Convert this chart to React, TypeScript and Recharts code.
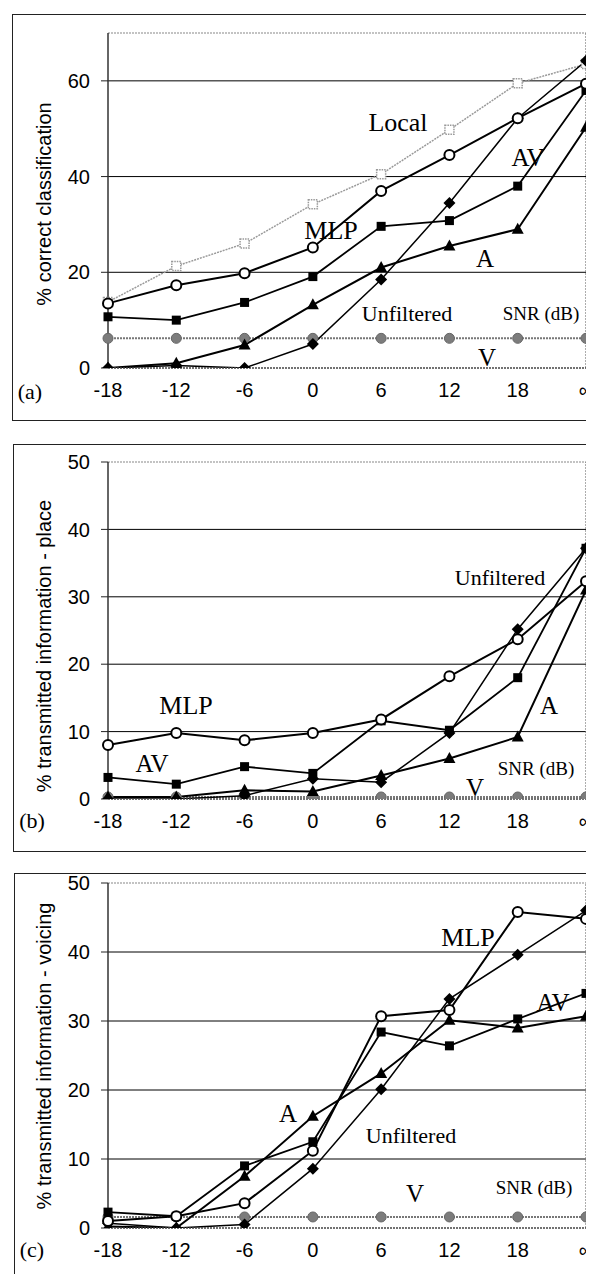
import React from 'react';
import { LineChart, Line, XAxis, YAxis, ReferenceLine } from 'recharts';

// Categories (SNR in dB)
const snrLabels = ['-18', '-12', '-6', '0', '6', '12', '18', '∞'];

// Panel (a): % correct classification
const aLocal = [13.8, 21.3, 26.0, 34.2, 40.5, 49.8, 59.5, 63.5];
const aMLP = [13.5, 17.3, 19.8, 25.2, 37.0, 44.5, 52.2, 59.4];
const aAV = [10.7, 10.0, 13.7, 19.1, 29.6, 30.8, 38.0, 58.0];
const aA = [0.0, 1.0, 4.8, 13.2, 21.0, 25.5, 29.0, 50.3];
const aUnf = [0.0, 0.5, 0.0, 5.0, 18.5, 34.5, 52.2, 64.2];
const aV = [6.2, 6.2, 6.2, 6.2, 6.2, 6.2, 6.2, 6.2];

// Panel (b): % transmitted information - place
const bMLP = [8.0, 9.8, 8.7, 9.8, 11.8, 18.2, 23.7, 32.3];
const bAV = [3.2, 2.2, 4.8, 3.8, 11.6, 10.2, 18.0, 37.2];
const bA = [0.3, 0.3, 1.3, 1.1, 3.5, 6.0, 9.2, 31.0];
const bUnf = [0.0, 0.0, 0.5, 3.0, 2.5, 9.8, 25.2, 37.2];
const bV = [0.3, 0.3, 0.3, 0.3, 0.3, 0.3, 0.3, 0.3];

// Panel (c): % transmitted information - voicing
const cMLP = [1.0, 1.7, 3.6, 11.2, 30.7, 31.6, 45.8, 44.8];
const cAV = [2.3, 1.7, 9.0, 12.5, 28.4, 26.4, 30.3, 34.0];
const cA = [0.2, 0.0, 7.5, 16.2, 22.4, 30.1, 29.0, 30.7];
const cUnf = [0.7, 0.0, 0.5, 8.6, 20.1, 33.2, 39.6, 46.0];
const cV = [1.6, 1.6, 1.6, 1.6, 1.6, 1.6, 1.6, 1.6];

const aTicks = [0, 20, 40, 60];
const aGrid = [20, 40, 60];
const bTicks = [0, 10, 20, 30, 40, 50];
const bGrid = [10, 20, 30, 40];

type Row = { snr: string; [k: string]: number | string };

function buildRows(series: Record<string, number[]>): Row[] {
  return snrLabels.map((snr, i) => {
    const r: Row = { snr };
    Object.keys(series).forEach((k) => {
      r[k] = series[k][i];
    });
    return r;
  });
}

const dataA = buildRows({ Local: aLocal, MLP: aMLP, AV: aAV, A: aA, Unfiltered: aUnf, V: aV });
const dataB = buildRows({ MLP: bMLP, AV: bAV, A: bA, Unfiltered: bUnf, V: bV });
const dataC = buildRows({ MLP: cMLP, AV: cAV, A: cA, Unfiltered: cUnf, V: cV });

const SANS = "'Liberation Sans', Arial, Helvetica, sans-serif";
const SERIF = "'Liberation Serif', 'Times New Roman', Times, serif";

const ok = (p: any) => p && typeof p.cx === 'number' && typeof p.cy === 'number' && !isNaN(p.cy);

const OpenCircle = (p: any) =>
  ok(p) ? <circle key={`oc-${p.index}`} cx={p.cx} cy={p.cy} r={5} fill="#fff" stroke="#000" strokeWidth={2} /> : <g key={`oc-${p.index}`} />;
const FilledSquare = (p: any) =>
  ok(p) ? <rect key={`fs-${p.index}`} x={p.cx - 4.5} y={p.cy - 4.5} width={9} height={9} fill="#000" /> : <g key={`fs-${p.index}`} />;
const Triangle = (p: any) =>
  ok(p) ? (
    <polygon key={`tr-${p.index}`} points={`${p.cx},${p.cy - 6.5} ${p.cx + 6},${p.cy + 4.5} ${p.cx - 6},${p.cy + 4.5}`} fill="#000" />
  ) : (
    <g key={`tr-${p.index}`} />
  );
const Diamond = (p: any) =>
  ok(p) ? (
    <polygon key={`di-${p.index}`} points={`${p.cx},${p.cy - 6} ${p.cx + 6},${p.cy} ${p.cx},${p.cy + 6} ${p.cx - 6},${p.cy}`} fill="#000" />
  ) : (
    <g key={`di-${p.index}`} />
  );
const GrayDot = (p: any) =>
  ok(p) ? <circle key={`gd-${p.index}`} cx={p.cx} cy={p.cy} r={5} fill="#7c7c7c" stroke="#666" strokeWidth={1} /> : <g key={`gd-${p.index}`} />;
const LocalSquare = (p: any) =>
  ok(p) ? (
    <rect key={`ls-${p.index}`} x={p.cx - 4.5} y={p.cy - 4.5} width={9} height={9} fill="#fff" stroke="#999" strokeWidth={1.5} strokeDasharray="1.5 1" />
  ) : (
    <g key={`ls-${p.index}`} />
  );

const tickStyle = { fontFamily: SANS, fontSize: 20, fill: '#000' };

type PanelProps = {
  data: Row[];
  top: number;
  height: number;
  marginTop: number;
  marginBottom: number;
  yMax: number;
  ticks: number[];
  grid: number[];
  withLocal?: boolean;
};

function Panel({ data, top, height, marginTop, marginBottom, yMax, ticks, grid, withLocal }: PanelProps) {
  return (
    <div style={{ position: 'absolute', left: 0, top, width: 620, height }}>
      <LineChart
        width={620}
        height={height}
        data={data}
        margin={{ top: marginTop, right: 34, bottom: marginBottom, left: 68 }}
      >
        <XAxis
          dataKey="snr"
          type="category"
          height={30}
          tick={tickStyle}
          tickLine={false}
          tickSize={6}
          tickMargin={9}
          interval={0}
          axisLine={{ stroke: '#444', strokeDasharray: '2 1', strokeWidth: 1.5 }}
        />
        <YAxis
          width={40}
          domain={[0, yMax]}
          ticks={ticks}
          allowDataOverflow
          tick={tickStyle}
          tickSize={7}
          tickMargin={11}
          tickLine={{ stroke: '#222' }}
          axisLine={{ stroke: '#333', strokeWidth: 1.5 }}
          interval={0}
        />
        {grid.map((g) => (
          <ReferenceLine key={`g${g}`} y={g} stroke="#000" strokeWidth={1} />
        ))}
        <ReferenceLine y={yMax} stroke="#888" strokeDasharray="2 1" strokeWidth={1.2} />
        <ReferenceLine x="∞" stroke="#777" strokeDasharray="2 1" strokeWidth={1.2} />
        {withLocal && (
          <Line
            dataKey="Local"
            stroke="#9a9a9a"
            strokeWidth={1.5}
            strokeDasharray="2 1"
            dot={LocalSquare}
            isAnimationActive={false}
          />
        )}
        <Line dataKey="V" stroke="#777" strokeWidth={2} strokeDasharray="2 1" dot={GrayDot} isAnimationActive={false} />
        <Line dataKey="Unfiltered" stroke="#000" strokeWidth={1.5} dot={Diamond} isAnimationActive={false} />
        <Line dataKey="A" stroke="#000" strokeWidth={2} dot={Triangle} isAnimationActive={false} />
        <Line dataKey="AV" stroke="#000" strokeWidth={1.8} dot={FilledSquare} isAnimationActive={false} />
        <Line dataKey="MLP" stroke="#000" strokeWidth={2} dot={OpenCircle} isAnimationActive={false} />
      </LineChart>
    </div>
  );
}

type Ann = { t: string; x: number; y: number; s: number; f?: string };

const annotations: Ann[] = [
  // panel a
  { t: 'Local', x: 398, y: 122, s: 26 },
  { t: 'MLP', x: 331, y: 230, s: 26 },
  { t: 'AV', x: 528, y: 157, s: 25 },
  { t: 'A', x: 485, y: 258, s: 25 },
  { t: 'Unfiltered', x: 407, y: 313, s: 22 },
  { t: 'SNR (dB)', x: 541, y: 313, s: 19 },
  { t: 'V', x: 487, y: 357, s: 25 },
  { t: '(a)', x: 30, y: 391, s: 22 },
  // panel b
  { t: 'MLP', x: 186, y: 705, s: 26 },
  { t: 'AV', x: 152, y: 763, s: 25 },
  { t: 'Unfiltered', x: 500, y: 577, s: 22 },
  { t: 'A', x: 549, y: 705, s: 25 },
  { t: 'SNR (dB)', x: 536, y: 768, s: 19 },
  { t: 'V', x: 475, y: 787, s: 25 },
  { t: '(b)', x: 32, y: 820, s: 22 },
  // panel c
  { t: 'MLP', x: 468, y: 937, s: 26 },
  { t: 'AV', x: 553, y: 1002, s: 25 },
  { t: 'A', x: 288, y: 1113, s: 25 },
  { t: 'Unfiltered', x: 411, y: 1135, s: 22 },
  { t: 'V', x: 415, y: 1193, s: 25 },
  { t: 'SNR (dB)', x: 534, y: 1187, s: 19 },
  { t: '(c)', x: 32, y: 1249, s: 22 },
];

const yTitles = [
  { t: '% correct classification', x: 44, y: 204 },
  { t: '% transmitted information - place', x: 44, y: 646 },
  { t: '% transmitted information - voicing', x: 44, y: 1056 },
];

export default function App() {
  return (
    <div style={{ position: 'relative', width: 586, height: 1266, overflow: 'hidden', background: '#fff' }}>
      <style>{'html,body{overflow:hidden;background:#fff;}'}</style>
      <div style={{ position: 'absolute', left: -8, top: -8, width: 594, height: 1274 }}>
        <div style={{ position: 'absolute', left: 12, top: 14, width: 700, height: 405, border: '1px solid #222' }} />
        <div style={{ position: 'absolute', left: 13, top: 444, width: 700, height: 406, border: '1px solid #222' }} />
        <div style={{ position: 'absolute', left: 14, top: 873, width: 700, height: 500, border: '1px solid #222' }} />
        <Panel data={dataA} top={0} height={430} marginTop={33} marginBottom={32} yMax={70} ticks={aTicks} grid={aGrid} withLocal />
        <Panel data={dataB} top={430} height={430} marginTop={32} marginBottom={31} yMax={50} ticks={bTicks} grid={bGrid} />
        <Panel data={dataC} top={850} height={424} marginTop={33} marginBottom={16} yMax={50} ticks={bTicks} grid={bGrid} />
        <svg
          width={594}
          height={1274}
          style={{ position: 'absolute', left: 0, top: 0, pointerEvents: 'none' }}
        >
          {yTitles.map((yt, i) => (
            <text
              key={`yt${i}`}
              x={yt.x}
              y={yt.y}
              transform={`rotate(-90 ${yt.x} ${yt.y})`}
              textAnchor="middle"
              dominantBaseline="central"
              fontFamily={SANS}
              fontSize={20}
              fill="#000"
            >
              {yt.t}
            </text>
          ))}
          {annotations.map((a, i) => (
            <text
              key={`an${i}`}
              x={a.x}
              y={a.y}
              textAnchor="middle"
              dominantBaseline="central"
              fontFamily={SERIF}
              fontSize={a.s}
              fill="#000"
            >
              {a.t}
            </text>
          ))}
        </svg>
      </div>
    </div>
  );
}
